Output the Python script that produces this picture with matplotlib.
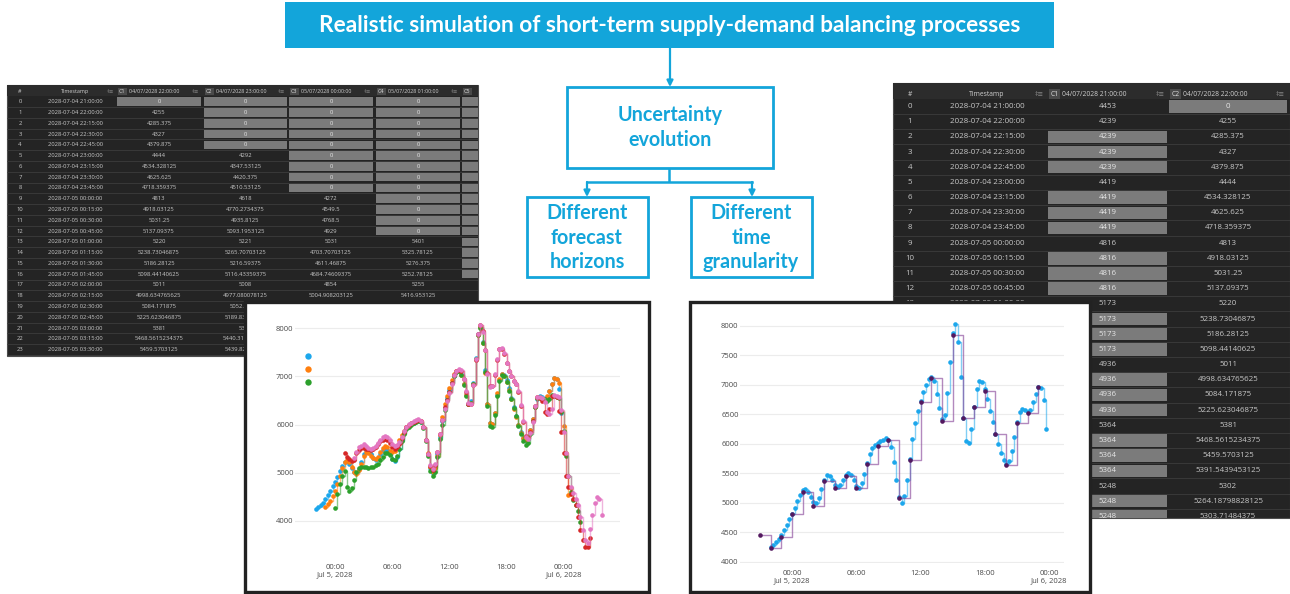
import pandas as pd
import matplotlib
matplotlib.use("Agg")
import matplotlib.pyplot as plt
from matplotlib.patches import Rectangle, FancyArrowPatch

plt.rcParams['font.family'] = ['Open Sans', 'DejaVu Sans']

# ---------------- data ----------------
title = "Realistic simulation of short-term supply-demand balancing processes"

stamps = ["2028-07-04 21:00:00", "2028-07-04 22:00:00", "2028-07-04 22:15:00", "2028-07-04 22:30:00",
          "2028-07-04 22:45:00", "2028-07-04 23:00:00", "2028-07-04 23:15:00", "2028-07-04 23:30:00",
          "2028-07-04 23:45:00", "2028-07-05 00:00:00", "2028-07-05 00:15:00", "2028-07-05 00:30:00",
          "2028-07-05 00:45:00", "2028-07-05 01:00:00", "2028-07-05 01:15:00", "2028-07-05 01:30:00",
          "2028-07-05 01:45:00", "2028-07-05 02:00:00", "2028-07-05 02:15:00", "2028-07-05 02:30:00",
          "2028-07-05 02:45:00", "2028-07-05 03:00:00", "2028-07-05 03:15:00", "2028-07-05 03:30:00",
          "2028-07-05 03:45:00", "2028-07-05 04:00:00", "2028-07-05 04:15:00", "2028-07-05 04:30:00"]

# left table (5 forecast columns, 24 rows)
lt_tags = ["C1", "C2", "C3", "C4", "C5"]
lt_heads = ["04/07/2028 22:00:00", "04/07/2028 23:00:00", "05/07/2028 00:00:00", "05/07/2028 01:00:00", ""]
lt_c1 = ["0", "4255", "4285.375", "4327", "4379.875", "4444", "4534.328125", "4625.625", "4718.359375",
         "4813", "4918.03125", "5031.25", "5137.09375", "5220", "5238.73046875", "5186.28125",
         "5098.44140625", "5011", "4998.634765625", "5084.171875", "5225.623046875", "5381",
         "5468.5615234375", "5459.5703125"]
lt_c2 = ["0", "0", "0", "0", "0", "4292", "4347.53125", "4420.375", "4510.53125", "4618", "4770.2734375",
         "4935.8125", "5093.1953125", "5221", "5265.70703125", "5216.59375", "5116.43359375", "5008",
         "4977.080078125", "5052.71875", "5189.83203125", "5349", "5440.318359375", "5439.82421875"]
lt_c3 = ["0", "0", "0", "0", "0", "0", "0", "0", "0", "4272", "4549.5", "4768.5", "4929", "5031",
         "4703.70703125", "4611.46875", "4684.74609375", "4854", "5004.908203125", "5090.5", "5112.25",
         "5120", "5109.75", "5100.5"]
lt_c4 = ["0", "0", "0", "0", "0", "0", "0", "0", "0", "0", "0", "0", "0", "5401", "5325.78125", "5276.375",
         "5252.78125", "5255", "5416.953125", "5480.5", "5510.25", "5520", "5500.75", "5490.5"]
lt_c5 = ["0"] * 17 + [""] * 7

# right table (hourly vs 15-min forecast, 28 rows)
rt_tags = ["C1", "C2"]
rt_heads = ["04/07/2028 21:00:00", "04/07/2028 22:00:00"]
rt_c1 = ["4453", "4239", "4239", "4239", "4239", "4419", "4419", "4419", "4419", "4816", "4816", "4816",
         "4816", "5173", "5173", "5173", "5173", "4936", "4936", "4936", "4936", "5364", "5364", "5364",
         "5364", "5248", "5248", "5248"]
rt_c2 = ["0", "4255", "4285.375", "4327", "4379.875", "4444", "4534.328125", "4625.625", "4718.359375",
         "4813", "4918.03125", "5031.25", "5137.09375", "5220", "5238.73046875", "5186.28125",
         "5098.44140625", "5011", "4998.634765625", "5084.171875", "5225.623046875", "5381",
         "5468.5615234375", "5459.5703125", "5391.5439453125", "5302", "5264.18798828125", "5303.71484375"]

# 15-min forecasts issued at different times
blue_start = "2028-07-04 22:00"
blue_vals = [4255, 4285, 4327, 4380, 4444, 4534, 4626, 4718, 4813, 4918,
             5031, 5137, 5220, 5239, 5186, 5098, 5011, 4999, 5084, 5226,
             5381, 5469, 5460, 5392, 5302, 5264, 5304, 5390, 5470, 5510,
             5470, 5390, 5290, 5250, 5330, 5490, 5680, 5830, 5930, 5975,
             6005, 6040, 6070, 6090, 6060, 5940, 5690, 5380, 5100, 5000,
             5110, 5380, 5740, 6080, 6350, 6560, 6720, 6870, 7000, 7090,
             7130, 7060, 6850, 6610, 6420, 6480, 6860, 7380, 7880, 8030,
             7720, 7130, 6430, 6040, 6006, 6250, 6620, 6930, 7060, 7040,
             6920, 6750, 6560, 6360, 6170, 6000, 5840, 5720, 5650, 5700,
             5880, 6110, 6360, 6540, 6590, 6570, 6540, 6570, 6700, 6850,
             6960, 6950, 6740, 6250]
orange_start = "2028-07-04 23:00"
orange_vals = [4292, 4348, 4420, 4511, 4618, 4770, 4936, 5093, 5221, 5266,
               5217, 5116, 5008, 4977, 5052, 5190, 5340, 5420, 5400, 5340,
               5300, 5290, 5330, 5420, 5520, 5560, 5530, 5460, 5440, 5460,
               5560, 5680, 5780, 5860, 5940, 5990, 6020, 6050, 6080, 6100,
               6080, 5960, 5690, 5400, 5120, 5020, 5090, 5350, 5780, 6150,
               6420, 6600, 6760, 6920, 7060, 7120, 7110, 7030, 6840, 6620,
               6430, 6440, 6840, 7370, 7860, 8020, 7700, 7080, 6430, 6040,
               6020, 6250, 6650, 6950, 7050, 7010, 6890, 6720, 6530, 6330,
               6150, 5990, 5830, 5720, 5680, 5730, 5880, 6120, 6360, 6550,
               6560, 6530, 6540, 6600, 6700, 6850, 6970, 6940, 6870, 6290,
               5980, 5400, 4540, 4690]
green_start = "2028-07-05 00:00"
green_vals = [4272, 4550, 4769, 4929, 5031, 4704, 4611, 4685, 4854, 5005,
              5090, 5110, 5120, 5110, 5100, 5110, 5120, 5150, 5190, 5260,
              5330, 5400, 5400, 5360, 5290, 5260, 5350, 5500, 5650, 5800,
              5900, 5960, 6000, 6030, 6060, 6080, 6060, 5930, 5660, 5340,
              5040, 4940, 5020, 5330, 5700, 6000, 6300, 6520, 6680, 6860,
              7000, 7100, 7110, 7040, 6830, 6600, 6420, 6450, 6850, 7370,
              7870, 8000, 7700, 7100, 6390, 5970, 5950, 6200, 6600, 6900,
              7020, 7010, 6880, 6700, 6530, 6350, 6170, 5980, 5810, 5660,
              5580, 5620, 5800, 6080, 6370, 6560, 6570, 6540, 6530, 6500,
              6540, 6620, 6600, 6570, 6550, 6270, 5860, 5350, 4930, 4600,
              4440, 4320, 4210, 3980]
red_start = "2028-07-05 01:00"
red_vals = [5401, 5326, 5276, 5253, 5255, 5417, 5480, 5510, 5520, 5500,
            5490, 5480, 5490, 5530, 5590, 5650, 5690, 5700, 5680, 5620,
            5540, 5500, 5530, 5600, 5720, 5850, 5950, 6000, 6030, 6060,
            6080, 6100, 6070, 5950, 5680, 5380, 5130, 5050, 5160, 5430,
            5800, 6100, 6360, 6520, 6680, 6860, 7020, 7120, 7140, 7120,
            6940, 6680, 6430, 6420, 6820, 7350, 7890, 8070, 7940, 7540,
            7080, 6800, 6800, 7040, 7350, 7560, 7580, 7470, 7270, 7110,
            7000, 6910, 6840, 6680, 6390, 6060, 5760, 5730, 5840, 6080,
            6380, 6570, 6560, 6480, 6270, 6220, 6320, 6600, 6590, 6570,
            6290, 5850, 5400, 4930, 4700, 4560, 4450, 4330, 4080, 3810,
            3600, 3450, 3450, 3640]
pink_start = "2028-07-05 02:00"
pink_vals = [5300, 5440, 5530, 5560, 5600, 5560, 5520, 5500, 5520, 5560,
             5620, 5690, 5740, 5760, 5740, 5690, 5600, 5560, 5580, 5640,
             5740, 5860, 5960, 6010, 6040, 6070, 6090, 6110, 6080, 5950,
             5670, 5390, 5150, 5080, 5180, 5440, 5800, 6100, 6330, 6500,
             6650, 6850, 7020, 7120, 7150, 7140, 6950, 6690, 6440, 6430,
             6820, 7360, 7880, 8070, 7930, 7540, 7060, 6790, 6810, 7050,
             7370, 7560, 7590, 7480, 7280, 7110, 7000, 6910, 6850, 6690,
             6400, 6070, 5750, 5700, 5820, 6060, 6380, 6580, 6570, 6560,
             6470, 6270, 6230, 6330, 6610, 6590, 6580, 6300, 5850, 5400,
             4930, 4700, 4570, 4450, 4330, 4080, 3810, 3610, 3540, 3840,
             4120, 4370, 4500, 4450, 4130]

# hourly forecast issued at 21:00
purple_start = "2028-07-04 21:00"
purple_vals = [4453, 4239, 4419, 4816, 5173, 4936, 5364, 5248, 5460, 5250, 5650, 5965, 6065, 5080,
               5720, 6700, 7120, 6380, 7840, 6430, 6620, 6900, 6160, 5640, 6350, 6520, 6960]

tick_labels = ["00:00\nJul 5, 2028", "06:00", "12:00", "18:00", "00:00\nJul 6, 2028"]

# ---------------- figure ----------------
W, H = 1290, 594
BLUE = '#13a5da'
fig = plt.figure(figsize=(W / 100, H / 100), dpi=100)
bg = fig.add_axes([0, 0, 1, 1])
bg.set_xlim(0, W)
bg.set_ylim(H, 0)
bg.axis('off')


def draw_table(x0, y0, x1, y1, head_y, row0_y, row_h, box_h, num_x, ts_x, ts_right,
               edges, tags, heads, rows, cols, fs, hfs):
    clip = Rectangle((x0, y0), x1 - x0, y1 - y0, transform=bg.transData)
    bg.add_patch(Rectangle((x0, y0), x1 - x0, y1 - y0, facecolor='#242424',
                           edgecolor='#4d4d4d', lw=0.8, zorder=1))
    arts = []
    kw = dict(ha='center', va='center', zorder=3, clip_on=True)
    arts.append(bg.add_patch(Rectangle((x0, y0), x1 - x0, row0_y - row_h / 2 - y0,
                                       facecolor='#2c2c2c', lw=0, zorder=1.2)))
    arts.append(bg.text(num_x, head_y, '#', fontsize=hfs, color='#cfcfcf', **kw))
    arts.append(bg.text(ts_x, head_y, 'Timestamp', fontsize=hfs, color='#cfcfcf', **kw))
    arts.append(bg.text(ts_right - 2, head_y, '‡≡', fontsize=hfs, color='#8a8a8a',
                        ha='right', va='center', zorder=3, clip_on=True))
    tag_w = hfs * 2.2
    for (l, r), tag, head in zip(edges, tags, heads):
        arts.append(bg.add_patch(Rectangle((l + 1, head_y - hfs * 0.95), tag_w, hfs * 1.9,
                                           facecolor='#4a4a4a', lw=0, zorder=2)))
        arts.append(bg.text(l + 1 + tag_w / 2, head_y, tag, fontsize=hfs, color='#e0e0e0', **kw))
        arts.append(bg.text(l + tag_w + 3, head_y, head, fontsize=hfs, color='#cfcfcf',
                            ha='left', va='center', zorder=3, clip_on=True))
        arts.append(bg.text(r - 2, head_y, '‡≡', fontsize=hfs, color='#8a8a8a',
                            ha='right', va='center', zorder=3, clip_on=True))
    for i, stamp in enumerate(rows):
        y = row0_y + i * row_h
        arts.append(bg.plot([x0, x1], [y + row_h / 2] * 2, color='#3d3d3d', lw=0.6, zorder=1.5)[0])
        arts.append(bg.text(num_x, y, str(i), fontsize=fs, color='#c8c8c8', **kw))
        arts.append(bg.text(ts_x, y, stamp, fontsize=fs, color='#c8c8c8', **kw))
        for (l, r), col in zip(edges, cols):
            v = col[i]
            grey = v == '0' or (i > 0 and v != '' and v == col[i - 1])
            if grey:
                arts.append(bg.add_patch(Rectangle((l, y - box_h / 2), r - l, box_h,
                                                   facecolor='#7b7b7b', lw=0, zorder=2)))
            if v:
                arts.append(bg.text((l + r) / 2, y, v, fontsize=fs,
                                    color='#e6e6e6' if grey else '#c8c8c8', **kw))
    for a in arts:
        a.set_clip_path(clip)


# left table (behind the left chart)
draw_table(7, 85, 478, 356, 91.5, 101.7, 10.78, 8.6, 20, 75, 116,
           [(117, 201), (204, 287), (289, 373), (376, 460), (462, 546)],
           lt_tags, lt_heads, stamps[:24], [lt_c1, lt_c2, lt_c3, lt_c4, lt_c5], 4.2, 3.9)

# right table (behind the right chart)
draw_table(893, 83, 1290, 518, 94, 106.5, 15.18, 12.5, 910, 987, 1046,
           [(1048, 1167), (1169, 1287)],
           rt_tags, rt_heads, stamps, [rt_c1, rt_c2], 5.7, 4.9)

# title banner and flow boxes
bg.add_patch(Rectangle((285, 2), 769, 46, facecolor=BLUE, lw=0, zorder=5))
bg.text(670, 25, title, color='white', fontsize=16.3, fontweight='bold',
        family=['Lato', 'DejaVu Sans'], ha='center', va='center', zorder=6)


def arrow(x, ya, yb):
    bg.add_patch(FancyArrowPatch((x, ya), (x, yb), arrowstyle='-|>', mutation_scale=9,
                                 color=BLUE, lw=1.6, shrinkA=0, shrinkB=0, zorder=6))


arrow(670, 48, 87)
bg.plot([669, 669], [168, 182], color=BLUE, lw=1.8, zorder=6, solid_capstyle='butt')
bg.plot([587, 752], [182, 182], color=BLUE, lw=1.8, zorder=6, solid_capstyle='projecting')
arrow(587, 182, 197)
arrow(752, 182, 197)

boxes = [((567, 87, 773, 168), (670, 115, 140), ["Uncertainty", "evolution"]),
         ((527, 197, 648, 277), (587, 213, 238, 262), ["Different", "forecast", "horizons"]),
         ((691, 197, 812, 277), (751, 213, 238, 262), ["Different", "time", "granularity"])]
for (x0, y0, x1, y1), pos, lines in boxes:
    bg.add_patch(Rectangle((x0, y0), x1 - x0, y1 - y0, facecolor='white',
                           edgecolor=BLUE, lw=2, zorder=5))
    for ty, line in zip(pos[1:], lines):
        bg.text(pos[0], ty, line, color=BLUE, fontsize=14.2, fontweight='bold',
                family=['Lato', 'DejaVu Sans'], ha='center', va='center', zorder=6)

# chart cards
for (x0, y0, x1, y1) in [(245, 302, 649, 592), (690, 302, 1090, 592)]:
    bg.add_patch(Rectangle((x0, y0), x1 - x0, y1 - y0, facecolor='white',
                           edgecolor='#222222', lw=2.4, zorder=10))


def add_chart(x0, y0, x1, y1):
    return fig.add_axes([x0 / W, 1 - y1 / H, (x1 - x0) / W, (y1 - y0) / H])


day0 = pd.Timestamp("2028-07-05 00:00")


def style(ax, yticks, ylim, h0, h1):
    ax.set_facecolor('none')
    for s in ax.spines.values():
        s.set_visible(False)
    ax.set_xlim(day0 + pd.Timedelta(hours=h0), day0 + pd.Timedelta(hours=h1))
    ax.set_ylim(*ylim)
    ax.set_yticks(yticks)
    ax.set_yticklabels([str(v) for v in yticks])
    ax.set_xticks([day0 + pd.Timedelta(hours=h) for h in (0, 6, 12, 18, 24)])
    ax.set_xticklabels(tick_labels, linespacing=1.15)
    ax.grid(axis='y', color='#ececec', lw=0.8)
    ax.set_axisbelow(True)
    ax.tick_params(length=0, labelsize=5.5, labelcolor='#4a4a4a')
    ax.tick_params(axis='x', pad=5)
    ax.tick_params(axis='y', pad=1)


def trace(ax, start, vals, freq, color, line_color=None, alpha=0.55, ms=3.3, z=3):
    x = pd.date_range(start, periods=len(vals), freq=freq)
    ax.step(x, vals, where='post', color=line_color or color, alpha=alpha, lw=1, zorder=z)
    ax.plot(x, vals, 'o', color=color, ms=ms, mew=0, zorder=z + 0.5)


# left chart: forecasts with different horizons
axL = add_chart(295, 313, 620, 557)
series = [(blue_start, blue_vals, '#1ca7ec'), (orange_start, orange_vals, '#ff7f0e'),
          (green_start, green_vals, '#2ca02c'), (red_start, red_vals, '#d62728'),
          (pink_start, pink_vals, '#e377c2')]
for k, (start, vals, c) in enumerate(series):
    trace(axL, start, vals, '15min', c, z=3 + k)
style(axL, [4000, 5000, 6000, 7000, 8000], (3249, 8318), -4.20, 29.91)
for c, fy in zip(['#1ca7ec', '#ff7f0e', '#2ca02c'], [356, 369, 382]):
    axL.plot([(308 - 295) / 325], [1 - (fy - 313) / 244], 'o', color=c, ms=4.6, mew=0,
             transform=axL.transAxes, clip_on=False, zorder=20)

# right chart: different time granularity
axR = add_chart(740, 313, 1064, 563)
trace(axR, blue_start, blue_vals, '15min', '#1ca7ec', z=3)
trace(axR, purple_start, purple_vals, 'h', '#53195f', line_color='#8a4a9c', alpha=0.65, z=5)
style(axR, [4000, 4500, 5000, 5500, 6000, 6500, 7000, 7500, 8000], (3978, 8214), -4.86, 25.40)

fig.savefig("out.png", dpi=100)
